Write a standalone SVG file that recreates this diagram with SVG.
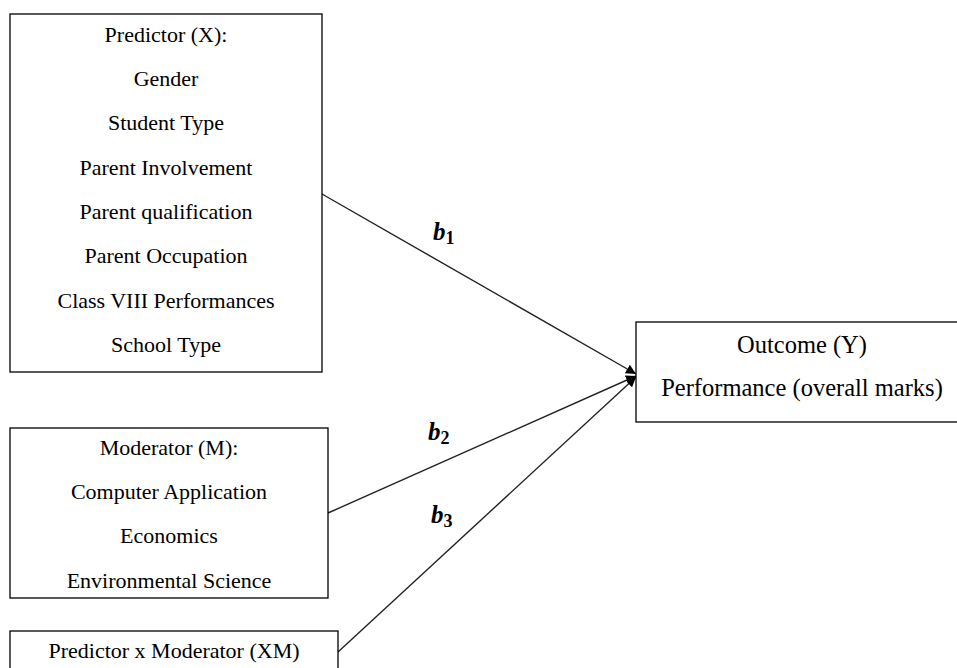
<svg xmlns="http://www.w3.org/2000/svg" width="957" height="668" viewBox="0 0 957 668">
<style>
.box{fill:#fff;stroke:#000;stroke-width:1.3}
.t{font-family:"Liberation Serif","Times New Roman",serif;font-size:22px;fill:#000;text-anchor:middle}
.to{font-family:"Liberation Serif","Times New Roman",serif;font-size:24.5px;fill:#000;text-anchor:middle}
.c{stroke:#222;stroke-width:1.4;fill:none;marker-end:url(#ah)}
.b{font-family:"Liberation Serif","Times New Roman",serif;font-size:25px;font-weight:bold;font-style:italic;fill:#000}
.s{font-size:18px;font-style:normal}
</style>
<defs>
<marker id="ah" viewBox="0 0 10 10" refX="10" refY="5" markerWidth="10" markerHeight="10" orient="auto" markerUnits="userSpaceOnUse">
<path d="M0,0 L10,5 L0,10 z" fill="#000"/>
</marker>
</defs>
<rect width="957" height="668" fill="#fff"/>
<g id="connectors">
<line class="c" x1="322" y1="194" x2="636" y2="374"/>
<line class="c" x1="328" y1="513" x2="636" y2="376"/>
<line class="c" x1="338" y1="652" x2="636" y2="377"/>
<text class="b" x="433" y="240">b<tspan class="s" dy="4">1</tspan></text>
<text class="b" x="428" y="440">b<tspan class="s" dy="4">2</tspan></text>
<text class="b" x="431" y="523">b<tspan class="s" dy="4">3</tspan></text>
</g>
<g id="predictor">
<rect class="box" x="10" y="14" width="312" height="358"/>
<text class="t" x="166" y="42">Predictor (X):</text>
<text class="t" x="166" y="86">Gender</text>
<text class="t" x="166" y="130">Student Type</text>
<text class="t" x="166" y="175">Parent Involvement</text>
<text class="t" x="166" y="219">Parent qualification</text>
<text class="t" x="166" y="263">Parent Occupation</text>
<text class="t" x="166" y="308">Class VIII Performances</text>
<text class="t" x="166" y="352">School Type</text>
</g>
<g id="outcome">
<rect class="box" x="636" y="322" width="323" height="100"/>
<text class="to" x="802" y="353">Outcome (Y)</text>
<text class="to" x="802" y="396">Performance (overall marks)</text>
</g>
<g id="moderator">
<rect class="box" x="10" y="428" width="318" height="170"/>
<text class="t" x="169" y="455">Moderator (M):</text>
<text class="t" x="169" y="499">Computer Application</text>
<text class="t" x="169" y="543">Economics</text>
<text class="t" x="169" y="588">Environmental Science</text>
</g>
<g id="interaction">
<rect class="box" x="10" y="631" width="328" height="45"/>
<text class="t" x="174" y="658">Predictor x Moderator (XM)</text>
</g>
</svg>
